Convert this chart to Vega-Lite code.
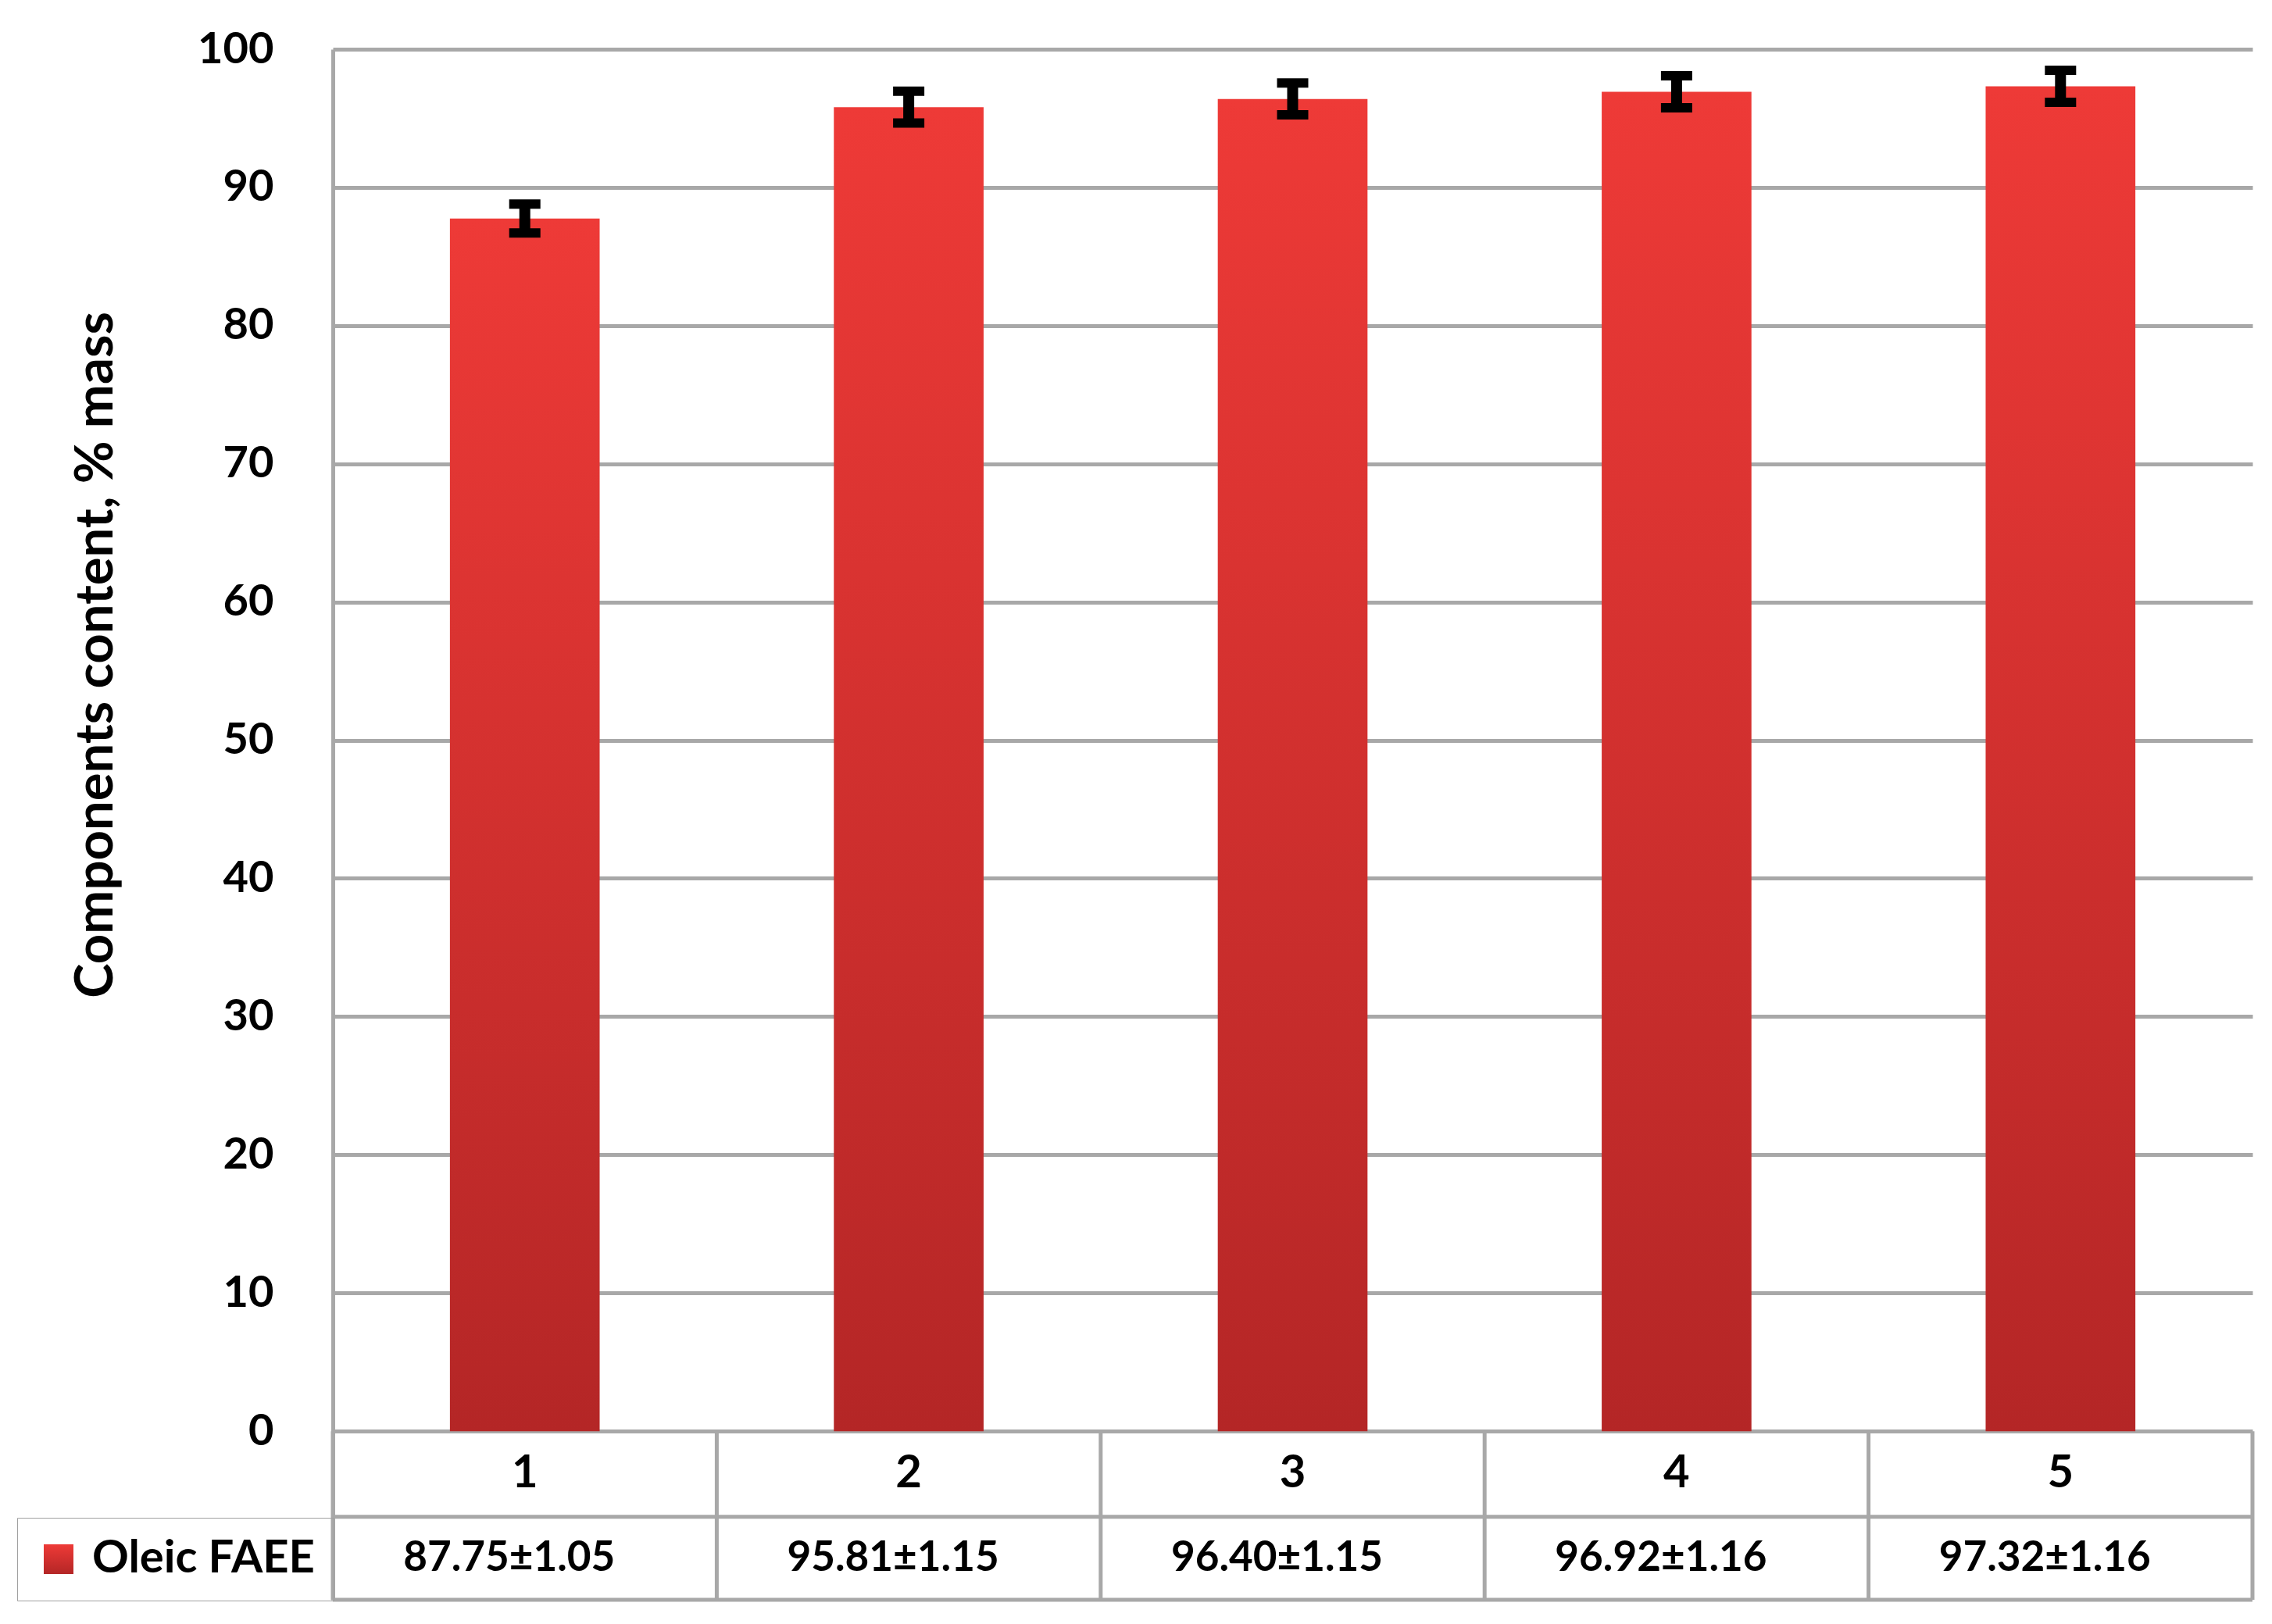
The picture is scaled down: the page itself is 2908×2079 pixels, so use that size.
{
  "$schema": "https://vega.github.io/schema/vega-lite/v6.json",
  "width": 2457,
  "height": 1985,
  "autosize": {"type": "none"},
  "padding": {"left": 426, "top": 63, "right": 25, "bottom": 31},
  "background": "white",
  "config": {"view": {"stroke": null}, "font": "Lato"},
  "data": {
    "values": [
      {"cat": "1", "value": 87.75, "err": 1.05, "label": "87.75±1.05"},
      {"cat": "2", "value": 95.81, "err": 1.15, "label": "95.81±1.15"},
      {"cat": "3", "value": 96.40, "err": 1.15, "label": "96.40±1.15"},
      {"cat": "4", "value": 96.92, "err": 1.16, "label": "96.92±1.16"},
      {"cat": "5", "value": 97.32, "err": 1.16, "label": "97.32±1.16"}
    ]
  },
  "layer": [
    {
      "mark": {
        "type": "bar",
        "width": {"band": 0.39},
        "color": {
          "gradient": "linear",
          "x1": 0, "y1": 0, "x2": 0, "y2": 1,
          "stops": [
            {"offset": 0, "color": "#EE3A37"},
            {"offset": 1, "color": "#B42626"}
          ]
        }
      },
      "encoding": {
        "x": {"field": "cat", "type": "nominal", "sort": null, "scale": {"paddingInner": 0, "paddingOuter": 0}, "axis": null},
        "y": {
          "field": "value",
          "type": "quantitative",
          "title": "Components content, % mass",
          "scale": {"domain": [-12.2, 100], "nice": false, "zero": false},
          "axis": {
            "values": [0, 10, 20, 30, 40, 50, 60, 70, 80, 90, 100],
            "grid": true,
            "gridColor": "#A8A8A8",
            "gridWidth": 5,
            "domain": true,
            "domainColor": "#A8A8A8",
            "domainWidth": 5,
            "ticks": false,
            "labelPadding": 76,
            "labelFont": "Lato",
            "labelFontWeight": "bold",
            "labelFontSize": 56,
            "labelColor": "black",
            "labelOverlap": false,
            "titleFont": "Lato",
            "titleFontWeight": "bold",
            "titleFontSize": 67,
            "titleColor": "black",
            "titleAngle": -90,
            "titleX": -303,
            "titleY": 775,
            "titleAlign": "center",
            "titleBaseline": "middle"
          }
        },
        "opacity": {
          "datum": "Oleic FAEE",
          "type": "nominal",
          "scale": {"range": [1]},
          "legend": {
            "title": null,
            "orient": "none",
            "legendX": -404,
            "legendY": 1880,
            "symbolType": "square",
            "symbolSize": 1444,
            "symbolStrokeWidth": 0,
            "symbolOpacity": 1,
            "labelFont": "Lato",
            "labelFontWeight": "bold",
            "labelFontSize": 58,
            "labelColor": "black",
            "labelOffset": 14,
            "labelLimit": 0,
            "padding": 24,
            "strokeColor": "#A0A0A0",
            "encode": {"legend": {"enter": {"strokeWidth": {"value": 5}}, "update": {"strokeWidth": {"value": 5}}}}
          }
        }
      }
    },
    {
      "mark": {
        "type": "errorbar",
        "color": "black",
        "ticks": {"thickness": 12, "opacity": 1, "color": "black"},
        "rule": {"strokeWidth": 14, "opacity": 1, "color": "black"},
        "size": 40
      },
      "encoding": {
        "x": {"field": "cat", "type": "nominal", "sort": null},
        "y": {"field": "value", "type": "quantitative", "title": "Components content, % mass"},
        "yError": {"field": "err"}
      }
    },
    {
      "data": {"values": [{}]},
      "mark": {"type": "rule", "color": "#A8A8A8", "strokeWidth": 5},
      "encoding": {"y": {"datum": -6.2, "type": "quantitative"}}
    },
    {
      "data": {"values": [{}]},
      "mark": {"type": "rule", "color": "#A8A8A8", "strokeWidth": 5},
      "encoding": {"y": {"datum": -12.2, "type": "quantitative"}}
    },
    {
      "mark": {"type": "rule", "color": "#A8A8A8", "strokeWidth": 5},
      "encoding": {
        "x": {"field": "cat", "type": "nominal", "sort": null, "bandPosition": 0},
        "y": {"datum": 0, "type": "quantitative"},
        "y2": {"datum": -12.2}
      }
    },
    {
      "data": {"values": [{"cat": "5"}]},
      "mark": {"type": "rule", "color": "#A8A8A8", "strokeWidth": 5},
      "encoding": {
        "x": {"field": "cat", "type": "nominal", "sort": null, "bandPosition": 1},
        "y": {"datum": 0, "type": "quantitative"},
        "y2": {"datum": -12.2}
      }
    },
    {
      "mark": {"type": "text", "font": "Lato", "fontWeight": "bold", "fontSize": 58, "color": "black", "align": "center", "baseline": "middle"},
      "encoding": {
        "x": {"field": "cat", "type": "nominal", "sort": null},
        "y": {"datum": -3.1, "type": "quantitative"},
        "text": {"field": "cat"}
      }
    },
    {
      "mark": {"type": "text", "font": "Lato", "fontWeight": "bold", "fontSize": 53, "color": "black", "align": "center", "baseline": "middle", "dx": -20},
      "encoding": {
        "x": {"field": "cat", "type": "nominal", "sort": null},
        "y": {"datum": -9.2, "type": "quantitative"},
        "text": {"field": "label"}
      }
    }
  ]
}
